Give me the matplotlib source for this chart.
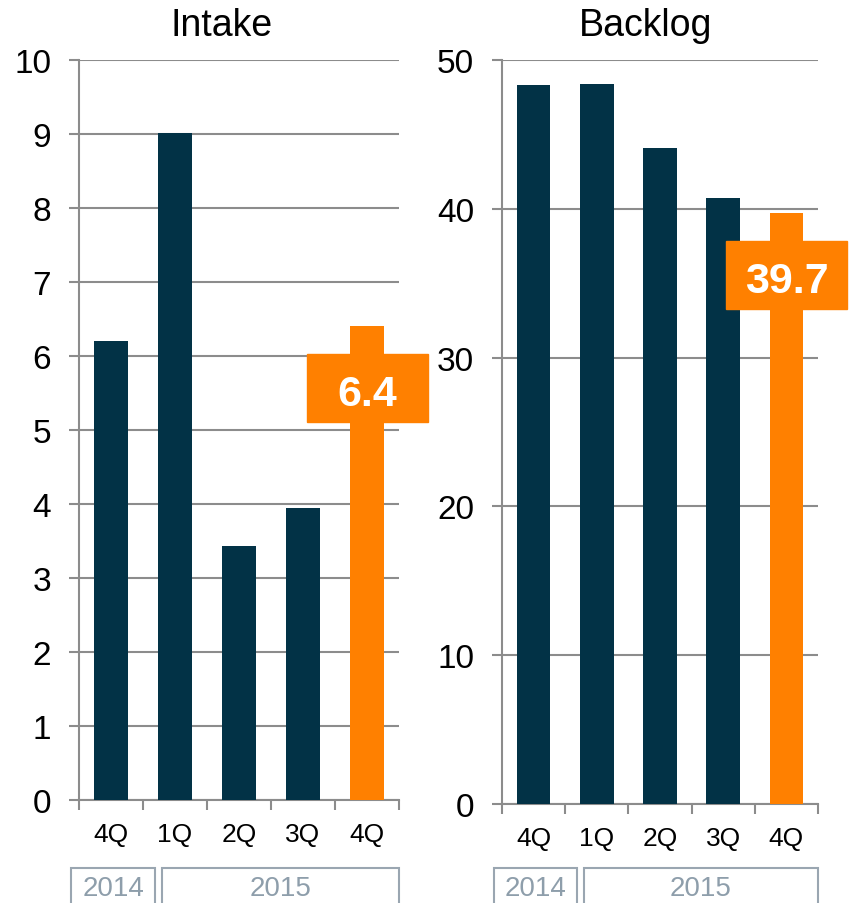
import numpy as np
import matplotlib
matplotlib.use('Agg')
import matplotlib.pyplot as plt
from matplotlib.patches import Rectangle
from matplotlib.transforms import ScaledTranslation, blended_transform_factory

plt.rcParams['font.family'] = ['Liberation Sans', 'DejaVu Sans']

# ---------------------------------------------------------
# DATA
# ---------------------------------------------------------
quarters = ['4Q', '1Q', '2Q', '3Q', '4Q']
years = ['2014', '2015']
intake = [6.2, 9.02, 3.43, 3.95, 6.4]
backlog = [48.35, 48.4, 44.1, 40.75, 39.7]

# ---------------------------------------------------------
# STYLE
# ---------------------------------------------------------
DARK = '#023246'
ORANGE = '#FF8000'
GRID = '#8c8c8c'
YEAR_GRAY = '#8e9eab'
YEAR_EDGES = [(-0.62, 0.69), (0.79, 4.5)]   # box spans in category units


def draw_panel(fig, ax, values, ymax, step, title, title_x):
    n = len(values)
    x = np.arange(n)
    colors = [DARK] * (n - 1) + [ORANGE]
    ax.bar(x, values, width=0.53, color=colors, zorder=3)

    ax.set_xlim(-0.5, n - 0.5)
    ax.set_ylim(0, ymax)
    ax.set_yticks(np.arange(0, ymax + step, step))
    ax.yaxis.grid(True, color=GRID, lw=1.5)
    ax.set_axisbelow(True)

    for s in ['top', 'right']:
        ax.spines[s].set_visible(False)
    for s in ['left', 'bottom']:
        ax.spines[s].set_color(GRID)
        ax.spines[s].set_linewidth(1.5)

    ax.tick_params(axis='y', length=7, width=1.5, color=GRID, labelsize=24, pad=13)
    ax.set_xticks(x)
    ax.set_xticklabels(quarters, fontsize=19)
    ax.tick_params(axis='x', which='major', length=0, pad=16)
    ax.set_xticks(np.arange(-0.5, n), minor=True)
    ax.tick_params(axis='x', which='minor', length=7, width=1.5, color=GRID)

    ax.annotate(title, xy=(title_x, 1), xycoords='axes fraction',
                xytext=(0, 18), textcoords='offset points',
                ha='center', va='baseline', fontsize=27)

    # orange callout for the latest quarter
    trans = fig.dpi_scale_trans + ScaledTranslation(x[-1], values[-1], ax.transData)
    ax.add_patch(Rectangle((-0.60, -0.955), 1.21, 0.68, transform=trans,
                           color=ORANGE, clip_on=False, zorder=4))
    ax.text(0.005, -0.79, f"{values[-1]:.1f}", transform=trans, ha='center',
            va='baseline', fontsize=31, fontweight='bold', color='white', zorder=5)

    # year boxes under the axis
    btrans = blended_transform_factory(ax.transData, fig.transFigure)
    for label, (x0, x1) in zip(years, YEAR_EDGES):
        ax.add_patch(Rectangle((x0, -0.05), x1 - x0, 0.0387 + 0.05, transform=btrans,
                               fill=False, ec='#9aa6b1', lw=1.5, clip_on=False))
        ax.text((x0 + x1) / 2, 0.0166, label, transform=btrans, ha='center',
                va='center', fontsize=20, color=YEAR_GRAY)


fig = plt.figure(figsize=(8.54, 9.04), dpi=100)
ax_l = fig.add_axes([79 / 854, 103 / 904, 320 / 854, 740 / 904])
ax_r = fig.add_axes([502 / 854, 99 / 904, 316 / 854, 744 / 904])

draw_panel(fig, ax_l, intake, 10, 1, 'Intake', 0.447)
draw_panel(fig, ax_r, backlog, 50, 10, 'Backlog', 0.453)

fig.savefig('out.png', dpi=100)
